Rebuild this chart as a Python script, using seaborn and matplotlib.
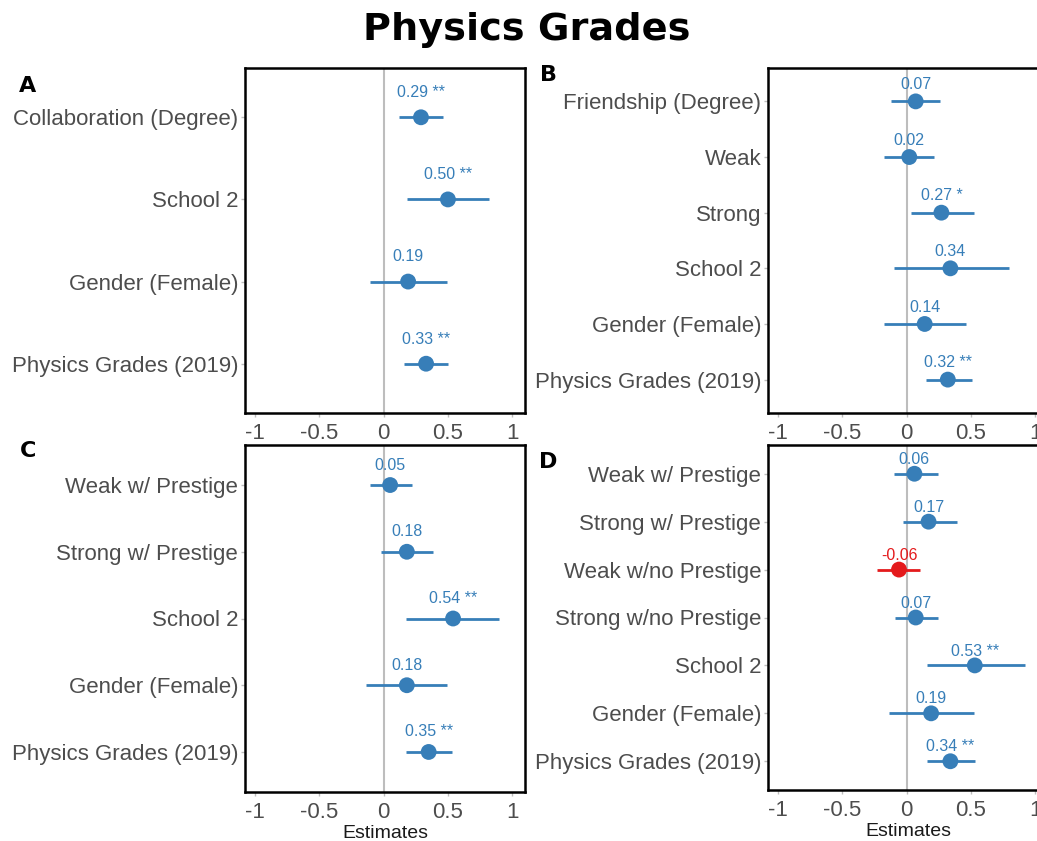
import numpy as np
import pandas as pd
import matplotlib
matplotlib.use("Agg")
import matplotlib.pyplot as plt
import seaborn as sns

sns.set_theme(style="white")
plt.rcParams['font.family'] = ['Liberation Sans', 'DejaVu Sans']

# ---- data ----
terms_a = ["Collaboration (Degree)", "School 2", "Gender (Female)", "Physics Grades (2019)"]
est_a = [0.29, 0.50, 0.19, 0.33]
lo_a = [0.12, 0.18, -0.11, 0.16]
hi_a = [0.46, 0.82, 0.49, 0.50]
sig_a = ["**", "**", "", "**"]

terms_b = ["Friendship (Degree)", "Weak", "Strong", "School 2", "Gender (Female)", "Physics Grades (2019)"]
est_b = [0.07, 0.02, 0.27, 0.34, 0.14, 0.32]
lo_b = [-0.12, -0.18, 0.03, -0.10, -0.18, 0.15]
hi_b = [0.26, 0.21, 0.52, 0.80, 0.46, 0.51]
sig_b = ["", "", "*", "", "", "**"]

terms_c = ["Weak w/ Prestige", "Strong w/ Prestige", "School 2", "Gender (Female)", "Physics Grades (2019)"]
est_c = [0.05, 0.18, 0.54, 0.18, 0.35]
lo_c = [-0.11, -0.02, 0.17, -0.14, 0.17]
hi_c = [0.22, 0.38, 0.90, 0.49, 0.53]
sig_c = ["", "", "**", "", "**"]

terms_d = ["Weak w/ Prestige", "Strong w/ Prestige", "Weak w/no Prestige", "Strong w/no Prestige",
           "School 2", "Gender (Female)", "Physics Grades (2019)"]
est_d = [0.06, 0.17, -0.06, 0.07, 0.53, 0.19, 0.34]
lo_d = [-0.10, -0.03, -0.23, -0.09, 0.16, -0.14, 0.16]
hi_d = [0.24, 0.39, 0.10, 0.24, 0.92, 0.52, 0.53]
sig_d = ["", "", "", "", "**", "", "**"]

xticks = [-1, -0.5, 0, 0.5, 1]
xtick_labels = ["-1", "-0.5", "0", "0.5", "1"]

BLUE = "#377EB8"
RED = "#E41A1C"
GREY_TXT = "#4d4d4d"

W, H = 1037, 841
fig = plt.figure(figsize=(W / 100, H / 100), dpi=100)
fig.patch.set_facecolor("white")


def px_axes(left, top, right, bottom):
    return fig.add_axes([left / W, 1 - bottom / H, (right - left) / W, (bottom - top) / H])


def panel(ax, terms, est, lo, hi, sig, xlabel=False):
    n = len(terms)
    df = pd.DataFrame({"term": terms, "est": est, "lo": lo, "hi": hi, "sig": sig})
    df["pos"] = np.arange(n)
    df["col"] = [BLUE if e >= 0 else RED for e in df["est"]]
    ax.axvline(0, color="#bdbdbd", lw=1.5, zorder=1)
    ax.hlines(df["pos"], df["lo"], df["hi"], colors=df["col"], lw=2, zorder=2)
    sns.scatterplot(data=df, x="est", y="pos", hue="col", palette={BLUE: BLUE, RED: RED},
                    s=130, edgecolor="none", legend=False, ax=ax, zorder=3)
    for _, r in df.iterrows():
        lab = f"{r['est']:.2f}" + (f" {r['sig']}" if r["sig"] else "")
        ax.text(r["est"], r["pos"] - 0.3, lab, color=r["col"], ha="center", va="center",
                fontsize=11.5)
    ax.set_xlim(-1.08, 1.1)
    ax.set_ylim(n - 1 + 0.6, -0.6)
    ax.set_yticks(df["pos"])
    ax.set_yticklabels(terms, fontsize=16, color=GREY_TXT)
    ax.set_xticks(xticks)
    ax.set_xticklabels(xtick_labels, fontsize=16, color=GREY_TXT)
    ax.tick_params(axis="both", length=3, color="#bdbdbd", width=1, pad=2, left=True, bottom=True)
    ax.tick_params(axis="x", pad=4)
    ax.set_ylabel("")
    ax.set_xlabel("Estimates" if xlabel else "", fontsize=14, color="#1a1a1a", labelpad=2)
    for s in ax.spines.values():
        s.set_color("black")
        s.set_linewidth(1.8)
        s.set_visible(True)
    ax.grid(False)


axA = px_axes(245, 68, 525, 413)
axB = px_axes(768, 68, 1048, 413)
axC = px_axes(245, 445, 525, 792)
axD = px_axes(768, 445, 1048, 790)

panel(axA, terms_a, est_a, lo_a, hi_a, sig_a)
panel(axB, terms_b, est_b, lo_b, hi_b, sig_b)
panel(axC, terms_c, est_c, lo_c, hi_c, sig_c, xlabel=True)
panel(axD, terms_d, est_d, lo_d, hi_d, sig_d, xlabel=True)

title_font = dict(family=["DejaVu Sans"], fontweight="bold", color="black")
fig.text(527 / W, 1 - 30 / H, "Physics Grades", ha="center", va="center", fontsize=27.5, **title_font)
for lab, x, y in [("A", 28, 86), ("B", 548, 75), ("C", 28, 451), ("D", 548, 462)]:
    fig.text(x / W, 1 - y / H, lab, ha="center", va="center", fontsize=16, **title_font)

fig.savefig("out.png", dpi=100, facecolor="white")
